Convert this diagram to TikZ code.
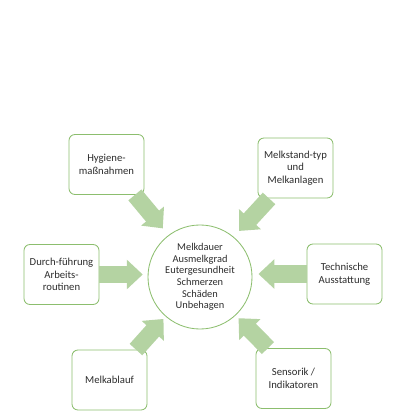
\documentclass[tikz,border=0pt]{standalone}
\usepackage{fontspec}
\setmainfont{Carlito}
\usetikzlibrary{arrows.meta,positioning,calc}
\definecolor{boxgreen}{RGB}{140,190,110}
\definecolor{flowgreen}{RGB}{180,211,162}
\definecolor{textgray}{RGB}{45,45,45}

\begin{document}
\begin{tikzpicture}[x=0.025cm,y=-0.025cm,
  factor/.style={draw=boxgreen,line width=0.6pt,rounded corners=0.15cm,
    fill=white,minimum width=1.875cm,minimum height=1.5cm,align=center,
    text=textgray,font=\fontsize{7.6}{9}\selectfont,inner sep=1pt},
  effect/.style={draw=boxgreen,line width=0.6pt,circle,minimum size=2.6cm,
    align=center,text=textgray,font=\fontsize{7.4}{8.2}\selectfont,inner sep=0pt},
  flow/.style={draw=flowgreen,line width=0.425cm,
    -{Triangle[width=0.72cm,length=0.4cm]}}]
  \useasboundingbox (0,0) rectangle (400,419);

  \node[effect] (ctr) at (200,277)
    {Melkdauer\\Ausmelkgrad\\Eutergesundheit\\Schmerzen\\Sch\"aden\\Unbehagen};

  \node[factor] (hyg)    at (106.5,164.5) {Hygiene-\\ma\ss nahmen};
  \node[factor] (stand)  at (295.5,168)   {Melkstand-typ\\und\\Melkanlagen};
  \node[factor] (durch)  at (61.5,274.5)  {Durch-f\"uhrung\\Arbeits-\\routinen};
  \node[factor] (tech)   at (344.5,274)   {Technische\\Ausstattung};
  \node[factor] (ablauf) at (109.5,380)   {Melkablauf};
  \node[factor] (sensor) at (293.5,378.5) {Sensorik /\\Indikatoren};

  \draw[flow,shorten >=0.22cm] (hyg.-47) -- (ctr.127);
  \draw[flow,shorten >=0.2cm] (stand.-131) -- (ctr.50);
  \draw[flow,shorten >=0.12cm] (durch.east) -- (durch.east -| ctr.west);
  \draw[flow,shorten >=0.15cm] (tech.west) -- (tech.west -| ctr.east);
  \draw[flow,shorten >=0.08cm] (ablauf.49) -- (ctr.-131);
  \draw[flow,shorten >=0.1cm] (sensor.130) -- (ctr.-47);
\end{tikzpicture}
\end{document}
